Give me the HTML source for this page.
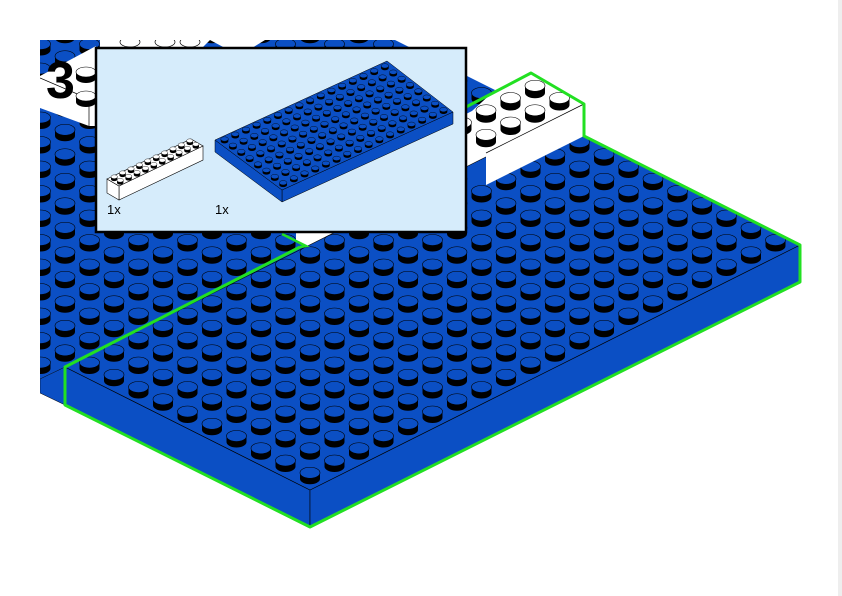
<!DOCTYPE html>
<html><head><meta charset="utf-8">
<style>
html,body{margin:0;padding:0;background:#fff;}
svg{display:block;}
</style></head>
<body>
<svg id="s" width="842" height="596" viewBox="0 0 842 596" xmlns="http://www.w3.org/2000/svg">
<defs>
<clipPath id="oldclip"><polygon points="40,40 100,40 100,40 395,40 495,90 320,250 65,367 40,379"/></clipPath>
<clipPath id="pg"><rect x="40" y="40" width="800" height="556"/></clipPath>
</defs>
<rect width="842" height="596" fill="#fff"/>
<rect x="838" y="0" width="4" height="596" fill="#eeeeee"/>
<g clip-path="url(#pg)">
<polygon points="40,40 395,40 495,90 320,250 65,367 40,379" fill="#0b4fc4"/>
<polygon points="40,379 65,367 65,405 40,393" fill="#0b4fc4" stroke="#000" stroke-width="0.5"/>
<g id="oldstuds" clip-path="url(#oldclip)"></g>
<polygon points="210,40 265,40 252,48 225,48" fill="#fff"/>
<polygon points="100,40 210,40 200,50 100,50" fill="#fff"/>
<ellipse cx="130" cy="42" rx="10" ry="5" fill="#fff" stroke="#000" stroke-width="0.7"/>
<ellipse cx="165" cy="42" rx="10" ry="5" fill="#fff" stroke="#000" stroke-width="0.7"/>
<ellipse cx="190" cy="42" rx="10" ry="5" fill="#fff" stroke="#000" stroke-width="0.7"/>
<polygon points="40,76 96,46 96,126 89,126 40,108" fill="#fff"/>
<polyline points="40,78 89,99 89,126" fill="none" stroke="#000" stroke-width="0.7"/>
<line x1="89" y1="99" x2="96" y2="95" stroke="#000" stroke-width="0.7"/>
<path d="M76,72 v6 a10,5 0 0 0 20,0 v-6z" fill="#000"/>
<ellipse cx="86" cy="72" rx="10" ry="5" fill="#fff" stroke="#000" stroke-width="0.6"/>
<path d="M76,96 v6 a10,5 0 0 0 20,0 v-6z" fill="#000"/>
<ellipse cx="86" cy="96" rx="10" ry="5" fill="#fff" stroke="#000" stroke-width="0.6"/>
<polygon points="296,230 382,230 382,243 334,258 296,240" fill="#fff"/>
<line x1="334" y1="230" x2="334" y2="258" stroke="#888" stroke-width="0.8"/>
<polygon points="65,367 310,490 310,527 65,404" fill="#0b4fc4" stroke="#000" stroke-width="0.6"/>
<polygon points="310,490 800,245 800,282 310,527" fill="#0b4fc4" stroke="#000" stroke-width="0.6"/>
<polygon points="310,490 800,245 555,122.5 65,367" fill="#0b4fc4" stroke="#000" stroke-width="0.6"/>
<g id="newstuds"></g>
<polygon points="584,104 584,136 486,185 486,153" fill="#fff"/>
<polygon points="584,104 535,79.5 437,128.5 486,153" fill="#fff"/>
<line x1="584" y1="104" x2="486" y2="153" stroke="#000" stroke-width="0.7"/>
<g id="whitestuds"></g>
<polyline points="300,247 65,367 65,405 310,527 800,282 800,245 584,136 584,104 531,73 466,107" fill="none" stroke="#22e022" stroke-width="3" stroke-linejoin="round"/>
<polyline points="282,234 306,246 300,247" fill="none" stroke="#22e022" stroke-width="2.5"/>
</g>
<text x="46" y="98" font-family="Liberation Sans, sans-serif" font-weight="bold" font-size="52" fill="#000">3</text>
<rect x="96" y="48" width="370" height="184" fill="#d6ecfb" stroke="#000" stroke-width="2.5"/>
<polygon points="282,190 453,112 453,124 282,202" fill="#0b4fc4" stroke="#000" stroke-width="0.5"/>
<polygon points="215,140 282,190 282,202 215,152" fill="#0b4fc4" stroke="#000" stroke-width="0.5"/>
<polygon points="282,190 453,112 387,61 215,140" fill="#0b4fc4" stroke="#000" stroke-width="0.5"/>
<g id="insetstuds"></g>
<polygon points="119,186 203,146 203,160 119,200" fill="#fff" stroke="#000" stroke-width="0.6"/>
<polygon points="107,179 119,186 119,200 107,193" fill="#fff" stroke="#000" stroke-width="0.6"/>
<polygon points="107,179 119,186 203,146 191,139" fill="#fff" stroke="#000" stroke-width="0.6"/>
<g id="smallstuds"></g>
<text x="107" y="214" font-family="Liberation Sans, sans-serif" font-size="13" fill="#000">1x</text>
<text x="215" y="214" font-family="Liberation Sans, sans-serif" font-size="13" fill="#000">1x</text>
</svg>
<script>
var NS="http://www.w3.org/2000/svg";
function stud(g,cx,cy,rx,ry,h,top,sw){
  var p=document.createElementNS(NS,"path");
  p.setAttribute("d","M"+(cx-rx)+","+(cy-h)+" v"+h+" a"+rx+","+ry+" 0 0 0 "+(2*rx)+",0 v"+(-h)+"z");
  p.setAttribute("fill","#000");g.appendChild(p);
  var e=document.createElementNS(NS,"ellipse");
  e.setAttribute("cx",cx);e.setAttribute("cy",cy-h);e.setAttribute("rx",rx);e.setAttribute("ry",ry);
  e.setAttribute("fill",top);e.setAttribute("stroke","#000");e.setAttribute("stroke-width",sw);
  g.appendChild(e);
}
function grid(g,F,u,v,ni,nj,rx,ry,h,dy,top,sw,filter){
  var pts=[];
  for(var i=ni[0];i<ni[1];i++)for(var j=nj[0];j<nj[1];j++){
    var x=F[0]+(i+0.5)*u[0]+(j+0.5)*v[0], y=F[1]+(i+0.5)*u[1]+(j+0.5)*v[1];
    if(filter&&!filter(x,y,i,j))continue;
    pts.push([x,y]);
  }
  pts.sort(function(a,b){return a[1]-b[1];});
  pts.forEach(function(p){stud(g,p[0],p[1]+dy,rx,ry,h,top,sw);});
}
var a=24.5;
grid(document.getElementById("oldstuds"),[310,490],[a,-a/2],[-a,-a/2],[-20,30],[0,40],10,5.5,6,1,"#0b4fc4",0.6,
  function(x,y){return x>20&&y>25&&y<400;});
grid(document.getElementById("newstuds"),[310,490],[a,-a/2],[-a,-a/2],[0,20],[0,10],10,5.5,6,1,"#0b4fc4",0.6,
  function(x,y,i,j){ return !(i>=16&&j>=9); });
grid(document.getElementById("whitestuds"),[486,153],[a,-a/2],[-a,-a/2],[0,4],[0,2],10,5.5,7,1,"#fff",0.6);
grid(document.getElementById("insetstuds"),[282,190],[10.69,-4.875],[-8.375,-6.25],[0,16],[0,8],3.8,2.2,2.2,0.5,"#0b4fc4",0.4);
grid(document.getElementById("smallstuds"),[119,186],[8.4,-4],[-6,-3.5],[0,10],[0,2],3.2,1.9,2.5,0.5,"#fff",0.4);
</script>
</body></html>
